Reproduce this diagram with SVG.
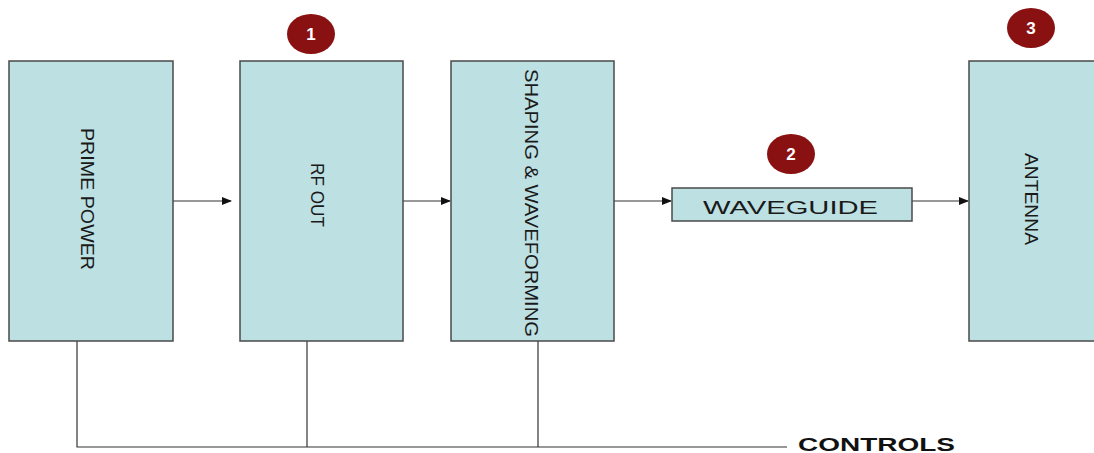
<svg xmlns="http://www.w3.org/2000/svg" width="1094" height="453" viewBox="0 0 1094 453">
<style>
.box{fill:#bde0e3;stroke:#4a4a4a;stroke-width:1.5}
.lbl{font-family:"Liberation Sans",Arial,sans-serif;font-size:18px;fill:#1a1a1a}
.badge{fill:#8a1111}
.num{font-family:"Liberation Sans",Arial,sans-serif;font-size:17px;font-weight:bold;fill:#fff;text-anchor:middle}
.wire{stroke:#333;stroke-width:1.2;fill:none}
</style>
<defs>
<marker id="ah" markerWidth="10" markerHeight="8" refX="9" refY="4" orient="auto" markerUnits="userSpaceOnUse">
<path d="M0,0 L10,4 L0,8 z" fill="#111"/>
</marker>
</defs>
<rect width="1094" height="453" fill="#fff"/>
<g id="connectors">
<line class="wire" x1="173" y1="201" x2="231" y2="201" marker-end="url(#ah)"/>
<line class="wire" x1="403" y1="201" x2="450" y2="201" marker-end="url(#ah)"/>
<line class="wire" x1="614" y1="201" x2="671" y2="201" marker-end="url(#ah)"/>
<line class="wire" x1="912" y1="201" x2="968" y2="201" marker-end="url(#ah)"/>
<polyline class="wire" points="77,341 77,447 787,447"/>
<line class="wire" x1="307" y1="341" x2="307" y2="447"/>
<line class="wire" x1="538" y1="341" x2="538" y2="447"/>
</g>
<g id="prime-power">
<rect class="box" x="9" y="61" width="164" height="280"/>
<text class="lbl" transform="translate(87,199) rotate(90)" y="6.5" text-anchor="middle" textLength="142" lengthAdjust="spacingAndGlyphs">PRIME POWER</text>
</g>
<g id="rf-out">
<rect class="box" x="240" y="61" width="163" height="280"/>
<text class="lbl" transform="translate(317,195) rotate(90)" y="6.5" text-anchor="middle" textLength="64" lengthAdjust="spacingAndGlyphs">RF OUT</text>
</g>
<g id="shaping">
<rect class="box" x="451" y="61" width="163" height="280"/>
<text class="lbl" transform="translate(531,203) rotate(90)" y="6.5" text-anchor="middle" textLength="268" lengthAdjust="spacingAndGlyphs">SHAPING &amp; WAVEFORMING</text>
</g>
<g id="waveguide">
<rect class="box" x="672" y="188" width="240" height="33"/>
<text class="lbl" x="790.5" y="214" text-anchor="middle" font-size="20" textLength="175" lengthAdjust="spacingAndGlyphs">WAVEGUIDE</text>
</g>
<g id="antenna">
<rect class="box" x="969" y="61" width="140" height="280"/>
<text class="lbl" transform="translate(1031,199) rotate(90)" y="6" text-anchor="middle" textLength="92" lengthAdjust="spacingAndGlyphs">ANTENNA</text>
</g>
<g id="badge-1">
<ellipse class="badge" cx="311" cy="34" rx="24" ry="20"/>
<text class="num" x="311" y="40">1</text>
</g>
<g id="badge-2">
<ellipse class="badge" cx="791" cy="154" rx="24" ry="20"/>
<text class="num" x="791" y="160">2</text>
</g>
<g id="badge-3">
<ellipse class="badge" cx="1031" cy="28" rx="24" ry="20"/>
<text class="num" x="1031" y="34">3</text>
</g>
<g id="controls">
<text x="798" y="451" font-family="'Liberation Sans',Arial,sans-serif" font-size="18" font-weight="bold" fill="#111" textLength="157" lengthAdjust="spacingAndGlyphs">CONTROLS</text>
</g>
</svg>
